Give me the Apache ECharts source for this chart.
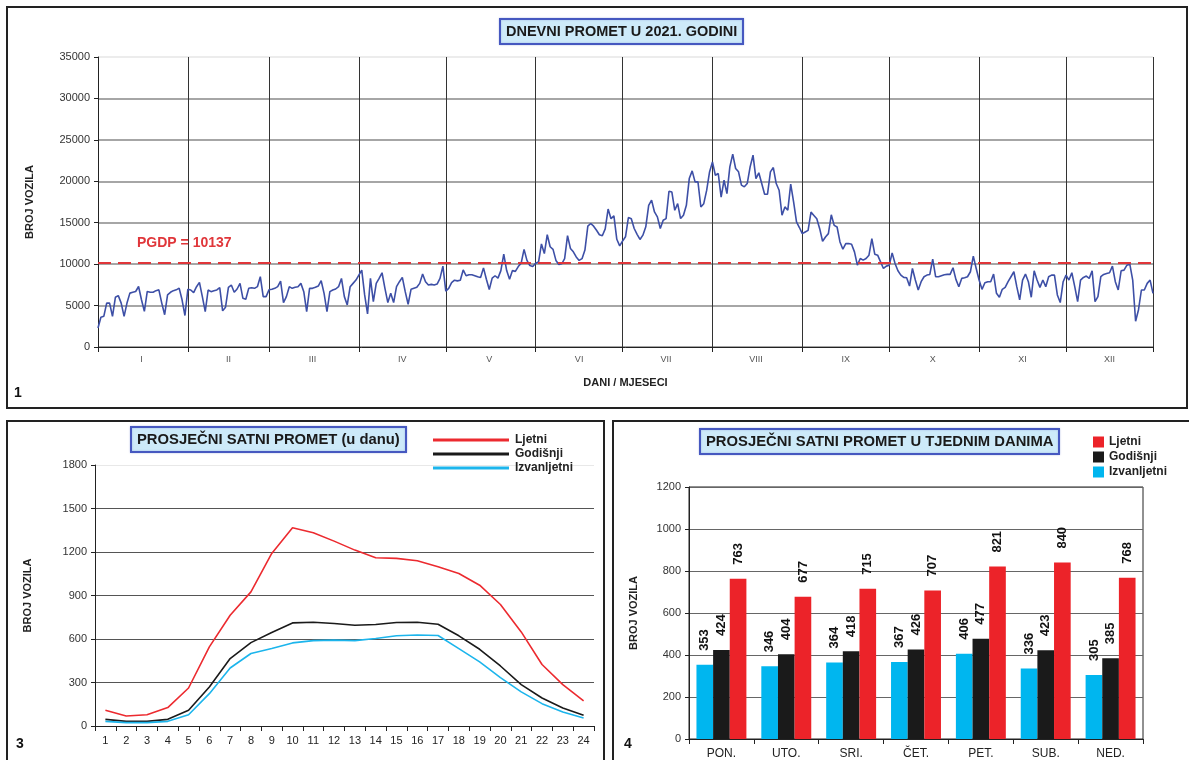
<!DOCTYPE html>
<html><head><meta charset="utf-8">
<script src="https://cdn.jsdelivr.net/npm/echarts@6/dist/echarts.min.js"></script>
<style>
html,body{margin:0;padding:0;background:#fff;width:1189px;height:760px;overflow:hidden;}
.c{position:absolute;}
</style></head>
<body>
<div id="c1" class="c" style="left:0;top:0;width:1189px;height:415px"></div>
<div id="c2" class="c" style="left:0;top:415px;width:610px;height:345px"></div>
<div id="c3" class="c" style="left:610px;top:415px;width:579px;height:345px"></div>
<script>
// ---- daily traffic 2021 ----
const jan = [2300,3600,3700,5300,5300,3700,6000,6200,5300,3700,5300,6500,6600,6700,7300,5700,4300,6700,6600,6600,6800,6900,5300,3900,6300,6600,6800,6900,7100,5700,3800];
const feb = [6960,6880,6560,7280,7800,6080,4280,6880,6680,6800,6880,7160,4360,4800,7200,7480,6600,7000,7680,5880,5760,7080,7160,7080,7280,8480,6080,6080];
const mar = [6900,6960,7080,7280,7960,5360,6080,7280,7080,7200,7280,7680,6680,4280,7080,7080,7200,7360,8000,6480,4280,6680,6880,7000,7280,8280,6080,5080,7280,7680,8080];
const apr = [8680,9280,6280,4000,8280,5480,7680,8280,8960,7080,5360,6480,5360,7280,7880,8400,6680,5160,6960,7080,7200,7680,8800,7880,7480,7560,7480,7600,8280,9760];
const may = [6740,7070,7770,8060,7980,8060,9300,8600,8720,8720,8600,8470,8390,9550,8180,6940,8310,8600,8310,9220,11200,9220,8180,9220,9130,9710,10120,11780,10450,9830,9710];
const jun = [10100,10250,12440,11280,13550,12100,11780,10450,9960,10040,10660,13430,11900,11490,10870,10450,10660,11700,14580,14910,14580,14090,13550,13430,14250,16650,15490,15820,13000,12200];
const jul = [12800,13300,15630,15470,14300,13600,12980,13500,14500,17100,17720,16300,15700,14300,15300,15500,18800,18700,16500,17300,15500,15900,17100,20330,21260,19930,19930,16900,17300,18900,21130];
const aug = [22340,20730,20940,18100,20130,18520,21740,23270,21540,21140,19530,19330,19730,21740,23150,20330,21020,19730,18440,18440,21140,21660,19730,18920,15900,16910,16510,19650,17520,15100,14420];
const sep = [13680,13880,14080,16280,15880,15480,14280,12760,13280,13680,15960,14680,14480,12680,11800,12480,12480,12400,11480,9880,10680,10480,10680,11080,13080,11200,11080,10280,9480,9760];
const oct = [9880,11360,10080,9200,8680,8400,8360,7360,9480,8080,6880,7880,8480,8680,8760,10600,8480,8480,8600,8720,8760,8760,9560,8160,7280,8280,8360,8480,9080,10960,9480];
const nov = [8080,6960,7760,7880,7880,8800,6480,6000,6960,7200,7880,8480,9080,7280,5680,8080,8800,7880,6000,9200,8080,7200,8080,7280,8480,8680,8680,6280,5360,7880];
const dec = [8680,8080,8960,7280,5480,8080,8400,8560,8280,9200,5480,6080,8480,8760,8880,8960,9760,7880,6880,9200,9280,9880,10000,8080,3100,4500,6880,6880,7680,8080,6480];
const monthLabels = ['I','II','III','IV','V','VI','VII','VIII','IX','X','XI','XII'];
const pgdp = 10137;

// ---- hourly averages ----
const hours = ['1','2','3','4','5','6','7','8','9','10','11','12','13','14','15','16','17','18','19','20','21','22','23','24'];
const ljetniHour = [108,69,78,127,262,546,764,925,1190,1367,1333,1275,1213,1160,1156,1140,1098,1052,971,838,649,424,285,173];
const godisnjiHour = [46,32,32,46,108,269,465,575,645,711,716,707,695,700,714,716,702,622,529,414,285,193,124,74];
const izvanHour = [32,23,23,32,78,223,400,500,534,573,589,592,589,603,622,628,624,534,442,334,235,154,97,55];

// ---- weekday averages ----
const weekDays = ['PON.','UTO.','SRI.','ČET.','PET.','SUB.','NED.'];
const izvanWeek = [353,346,364,367,406,336,305];
const godisnjiWeek = [424,404,418,426,477,423,385];
const ljetniWeek = [763,677,715,707,821,840,768];

const FONT = 'Liberation Sans, Arial, sans-serif';
const months = [jan,feb,mar,apr,may,jun,jul,aug,sep,oct,nov,dec];
const daily = [].concat(...months);
const dayCats = daily.map((v,i)=>String(i+1));
const monthStart = new Set(); const monthMid = {};
let acc = 0;
months.forEach((m,k)=>{ monthStart.add(acc); monthMid[acc + Math.floor(m.length/2)] = monthLabels[k]; acc += m.length; });
monthStart.add(acc-1);
const plain = (v)=>String(v);

function titleBox(text, left, top, size){
  return {text, left, top, padding:[5,6,5,6], backgroundColor:'#cdeaf9', borderColor:'#4658c0', borderWidth:2,
    shadowColor:'rgba(70,88,192,0.35)', shadowBlur:2,
    textStyle:{fontFamily:FONT, fontSize:size, fontWeight:'bold', color:'#1a1a1a'}};
}
function panelNum(t,x,y){ return {type:'text', left:x, top:y, style:{text:t, font:'bold 14px '+FONT, fill:'#111'}}; }

// ---------- Chart 1 ----------
const ch1 = echarts.init(document.getElementById('c1'));
ch1.setOption({
  animation:false,
  title: titleBox('DNEVNI PROMET U 2021. GODINI', 500, 19, 14.5),
  graphic:[
    {type:'rect', shape:{x:7,y:7,width:1180,height:401}, style:{fill:'none', stroke:'#222', lineWidth:2}},
    panelNum('1', 14, 386)
  ],
  grid:{left:98, top:57, width:1055, height:290},
  xAxis:{type:'category', data:dayCats, boundaryGap:false,
    name:'DANI / MJESECI', nameLocation:'middle', nameGap:30,
    nameTextStyle:{fontFamily:FONT, fontWeight:'bold', fontSize:11, color:'#222'},
    axisLine:{lineStyle:{color:'#222', width:1}},
    axisTick:{show:true, interval:(i)=>monthStart.has(i), length:5, lineStyle:{color:'#222'}},
    axisLabel:{interval:(i)=>monthMid[i]!==undefined, formatter:(v,i)=>monthMid[i]||'', fontFamily:FONT, fontSize:9, color:'#555', margin:8},
    splitLine:{show:true, interval:(i)=>monthStart.has(i), lineStyle:{color:'#333', width:1}}
  },
  yAxis:{type:'value', min:0, max:35000, interval:5000,
    name:'BROJ VOZILA', nameLocation:'middle', nameGap:63,
    nameTextStyle:{fontFamily:FONT, fontWeight:'bold', fontSize:11, color:'#222'},
    axisLine:{show:true, lineStyle:{color:'#222'}},
    axisTick:{show:true, length:4, lineStyle:{color:'#222'}},
    axisLabel:{formatter:plain, fontFamily:FONT, fontSize:11, color:'#333', margin:8},
    splitLine:{lineStyle:{color:['#888','#888','#888','#888','#888','#888','#888','#e6e6e6'], width:1.5}}
  },
  series:[{type:'line', data:daily, showSymbol:false, symbol:'none',
    lineStyle:{color:'#3d4fa6', width:1.6},
    markLine:{silent:true, symbol:'none',
      lineStyle:{color:'#e0363a', type:[13,7], width:2},
      label:{show:true, position:'insideStartTop', distance:[39,13], formatter:'PGDP = '+pgdp,
        fontFamily:FONT, fontWeight:'bold', fontSize:14, color:'#e0363a'},
      data:[{yAxis:pgdp}]}
  }]
});

// ---------- Chart 2 ----------
const ch2 = echarts.init(document.getElementById('c2'));
ch2.setOption({
  animation:false,
  title: titleBox('PROSJEČNI SATNI PROMET (u danu)', 131, 12, 14.8),
  graphic:[
    {type:'rect', shape:{x:7,y:6,width:597,height:360}, style:{fill:'none', stroke:'#222', lineWidth:2}},
    panelNum('3', 16, 322)
  ],
  legend:{left:428, top:14, orient:'vertical', itemGap:2, itemWidth:76, itemHeight:3, icon:'rect',
    textStyle:{fontFamily:FONT, fontWeight:'bold', fontSize:12, color:'#222', padding:[0,0,0,1]},
    data:['Ljetni','Godišnji','Izvanljetni']},
  grid:{left:95, top:50, width:499, height:261},
  xAxis:{type:'category', data:hours, boundaryGap:true,
    axisLine:{lineStyle:{color:'#222'}},
    axisTick:{show:true, length:5, lineStyle:{color:'#222'}},
    axisLabel:{fontFamily:FONT, fontSize:11, color:'#222', margin:9}
  },
  yAxis:{type:'value', min:0, max:1800, interval:300,
    name:'BROJ VOZILA', nameLocation:'middle', nameGap:62,
    nameTextStyle:{fontFamily:FONT, fontWeight:'bold', fontSize:11, color:'#222'},
    axisLine:{show:true, lineStyle:{color:'#222'}},
    axisTick:{show:true, length:4, lineStyle:{color:'#222'}},
    axisLabel:{formatter:plain, fontFamily:FONT, fontSize:11, color:'#333', margin:8},
    splitLine:{lineStyle:{color:['#555','#555','#555','#555','#555','#555','#e8e8e8'], width:1}}
  },
  series:[
    {name:'Ljetni', type:'line', data:ljetniHour, showSymbol:false, symbol:'none', color:'#ec2a2f', lineStyle:{width:1.6}},
    {name:'Godišnji', type:'line', data:godisnjiHour, showSymbol:false, symbol:'none', color:'#1a1a1a', lineStyle:{width:1.6}},
    {name:'Izvanljetni', type:'line', data:izvanHour, showSymbol:false, symbol:'none', color:'#1cb5ec', lineStyle:{width:1.6}}
  ]
});

// ---------- Chart 3 ----------
const ch3 = echarts.init(document.getElementById('c3'));
const barLabel = {show:true, position:'top', rotate:90, align:'left', verticalAlign:'middle', distance:14,
  fontFamily:FONT, fontWeight:'bold', fontSize:13, color:'#111'};
ch3.setOption({
  animation:false,
  title: titleBox('PROSJEČNI SATNI PROMET U TJEDNIM DANIMA', 90, 14, 14.8),
  graphic:[
    {type:'rect', shape:{x:3,y:6,width:600,height:360}, style:{fill:'none', stroke:'#222', lineWidth:2}},
    panelNum('4', 14, 322)
  ],
  legend:{left:478, top:16, orient:'vertical', itemGap:3, itemWidth:11, itemHeight:11, icon:'rect',
    textStyle:{fontFamily:FONT, fontWeight:'bold', fontSize:12, color:'#222'},
    data:['Ljetni','Godišnji','Izvanljetni']},
  grid:{left:79, top:72, width:454, height:253, show:true, borderColor:'#222', borderWidth:1},
  xAxis:{type:'category', data:weekDays,
    axisLine:{lineStyle:{color:'#222'}},
    axisTick:{show:true, length:5, lineStyle:{color:'#222'}},
    axisLabel:{fontFamily:FONT, fontSize:12, color:'#222', margin:9}
  },
  yAxis:{type:'value', min:0, max:1200, interval:200,
    name:'BROJ VOZILA', nameLocation:'middle', nameGap:50,
    nameTextStyle:{fontFamily:FONT, fontWeight:'bold', fontSize:11, color:'#222'},
    axisLine:{show:true, lineStyle:{color:'#222'}},
    axisTick:{show:true, length:4, lineStyle:{color:'#222'}},
    axisLabel:{formatter:plain, fontFamily:FONT, fontSize:11, color:'#333', margin:8},
    splitLine:{lineStyle:{color:'#666', width:1}}
  },
  series:[
    {name:'Izvanljetni', type:'bar', data:izvanWeek, color:'#00b6ef', barGap:'0%', barCategoryGap:'23%', label:barLabel},
    {name:'Godišnji', type:'bar', data:godisnjiWeek, color:'#1a1a1a', barGap:'0%', barCategoryGap:'23%', label:barLabel},
    {name:'Ljetni', type:'bar', data:ljetniWeek, color:'#ec2329', barGap:'0%', barCategoryGap:'23%', label:barLabel}
  ]
});
</script>
</body></html>
